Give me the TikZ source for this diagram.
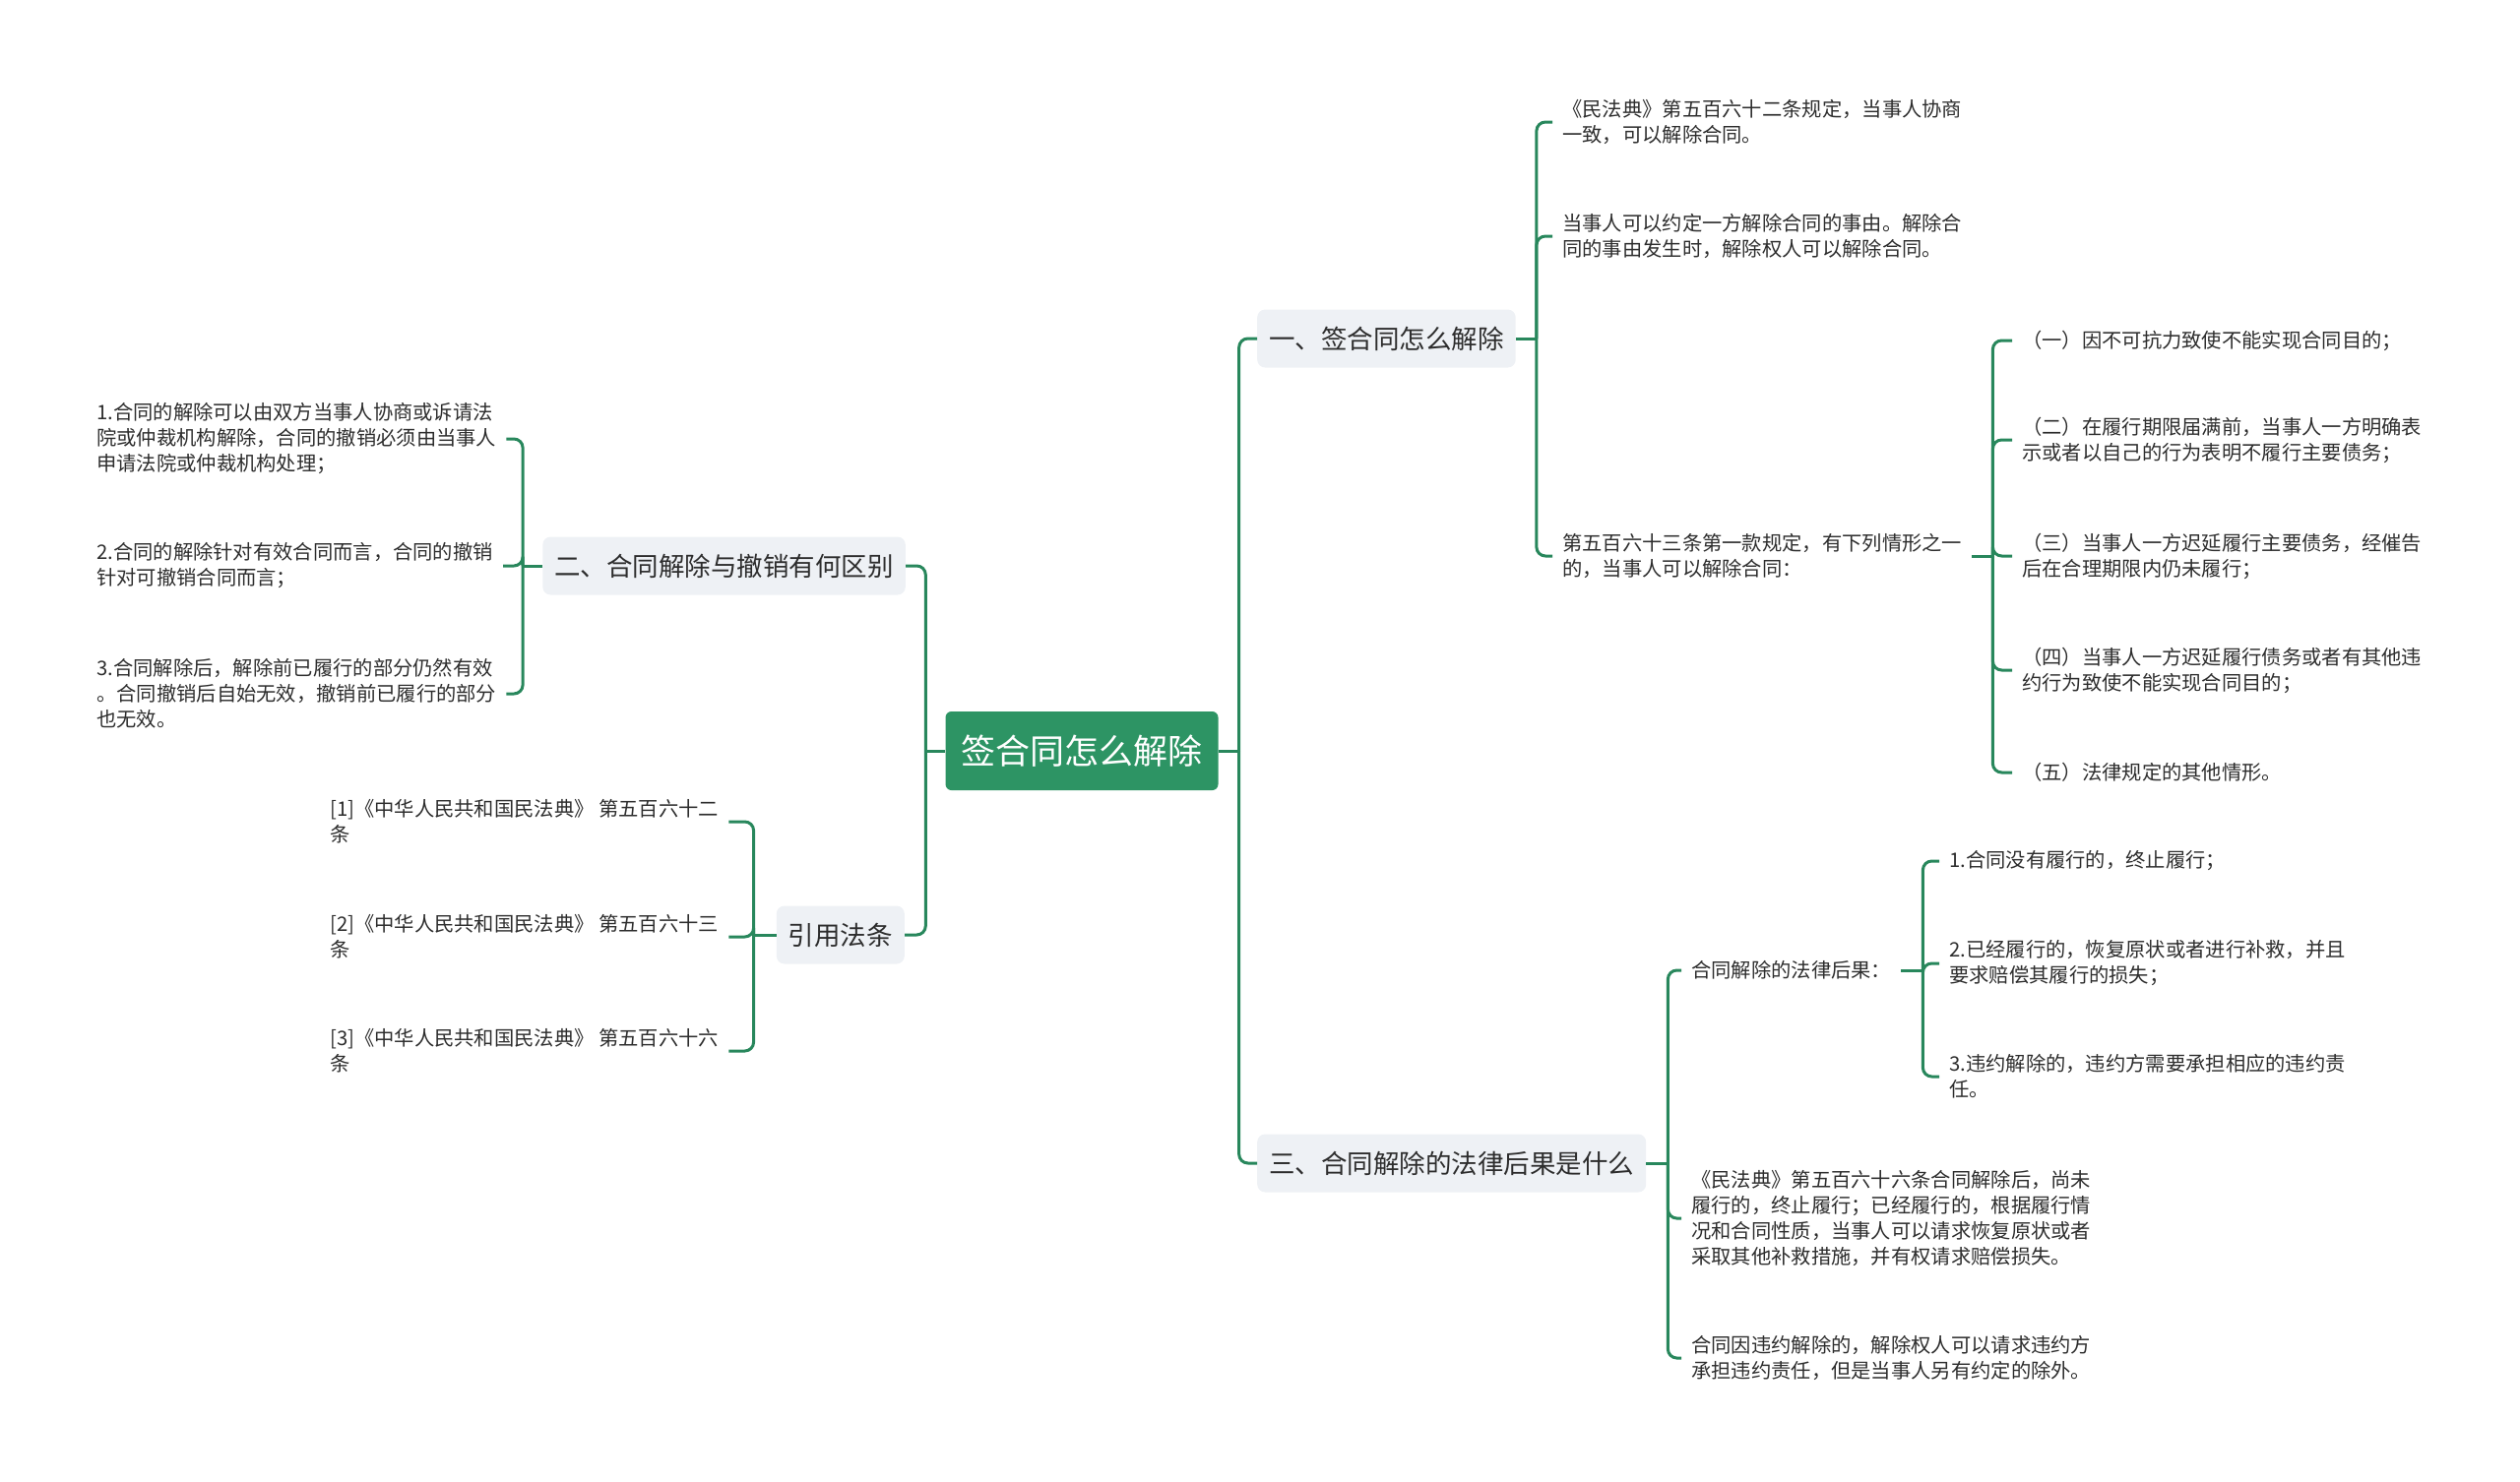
\documentclass[tikz,border=0pt]{standalone}
\usepackage{fontspec}
\newfontfamily\cjk{Noto Sans CJK SC}
\definecolor{lineg}{RGB}{40,135,92}
\definecolor{rootg}{RGB}{45,148,100}
\definecolor{topicbg}{RGB}{238,241,245}
\definecolor{textc}{RGB}{45,45,45}
\begin{document}
\begin{tikzpicture}[x=1pt, y=-1pt, line join=round,
	link/.style={draw=lineg, line width=3pt, rounded corners=9pt},
	rootbox/.style={fill=rootg, rounded corners=6pt, text=white, font=\cjk\fontsize{35}{42}\selectfont, inner xsep=16pt, minimum height=80pt},
	topic/.style={fill=topicbg, rounded corners=8pt, text=textc, font=\cjk\fontsize{26.5}{32}\selectfont, inner xsep=12pt, minimum height=59pt},
	leaf/.style={text=textc, font=\cjk\fontsize{20.3}{26}\selectfont, align=left, inner xsep=10pt, inner ysep=2pt}]
	\useasboundingbox (0,0) rectangle (2560,1505);
	% centre and main topics
	\node[rootbox] (root) at (1099,763) {签合同怎么解除};
	\node[topic, anchor=west] (t1) at (1277,344) {一、签合同怎么解除};
	\node[topic, anchor=east] (t2) at (920,575) {二、合同解除与撤销有何区别};
	\node[topic, anchor=west] (t3) at (1277,1182) {三、合同解除的法律后果是什么};
	\node[topic, anchor=east] (t4) at (919,950) {引用法条};
	% topic one
	\node[leaf, anchor=west] (a1) at (1577,124) {《民法典》第五百六十二条规定，当事人协商\\一致，可以解除合同。};
	\node[leaf, anchor=west] (a2) at (1577,240) {当事人可以约定一方解除合同的事由。解除合\\同的事由发生时，解除权人可以解除合同。};
	\node[leaf, anchor=west] (a3) at (1577,565) {第五百六十三条第一款规定，有下列情形之一\\的，当事人可以解除合同：};
	\node[leaf, anchor=west] (b1) at (2044,346) {（一）因不可抗力致使不能实现合同目的；};
	\node[leaf, anchor=west] (b2) at (2044,447) {（二）在履行期限届满前，当事人一方明确表\\示或者以自己的行为表明不履行主要债务；};
	\node[leaf, anchor=west] (b3) at (2044,565) {（三）当事人一方迟延履行主要债务，经催告\\后在合理期限内仍未履行；};
	\node[leaf, anchor=west] (b4) at (2044,681) {（四）当事人一方迟延履行债务或者有其他违\\约行为致使不能实现合同目的；};
	\node[leaf, anchor=west] (b5) at (2044,785) {（五）法律规定的其他情形。};
	% topic three
	\node[leaf, anchor=west] (c1) at (1708,986) {合同解除的法律后果：};
	\node[leaf, anchor=west] (c2) at (1708,1238) {《民法典》第五百六十六条合同解除后，尚未\\履行的，终止履行；已经履行的，根据履行情\\况和合同性质，当事人可以请求恢复原状或者\\采取其他补救措施，并有权请求赔偿损失。};
	\node[leaf, anchor=west] (c3) at (1708,1380) {合同因违约解除的，解除权人可以请求违约方\\承担违约责任，但是当事人另有约定的除外。};
	\node[leaf, anchor=west] (d1) at (1970,875) {1.合同没有履行的，终止履行；};
	\node[leaf, anchor=west] (d2) at (1970,979) {2.已经履行的，恢复原状或者进行补救，并且\\要求赔偿其履行的损失；};
	\node[leaf, anchor=west] (d3) at (1970,1094) {3.违约解除的，违约方需要承担相应的违约责\\任。};
	% topic two
	\node[leaf, anchor=west] (e1) at (88,446) {1.合同的解除可以由双方当事人协商或诉请法\\院或仲裁机构解除，合同的撤销必须由当事人\\申请法院或仲裁机构处理；};
	\node[leaf, anchor=west] (e2) at (88,575) {2.合同的解除针对有效合同而言，合同的撤销\\针对可撤销合同而言；};
	\node[leaf, anchor=west] (e3) at (88,705) {3.合同解除后，解除前已履行的部分仍然有效\\。合同撤销后自始无效，撤销前已履行的部分\\也无效。};
	% cited articles
	\node[leaf, anchor=west] (f1) at (325,835) {[1]《中华人民共和国民法典》 第五百六十二\\条};
	\node[leaf, anchor=west] (f2) at (325,952) {[2]《中华人民共和国民法典》 第五百六十三\\条};
	\node[leaf, anchor=west] (f3) at (325,1068) {[3]《中华人民共和国民法典》 第五百六十六\\条};
	% junctions
	\coordinate (jR) at ([xshift=21pt]root.east);
	\coordinate (jL) at ([xshift=-20pt]root.west);
	\coordinate (j1) at ([xshift=21pt]t1.east);
	\coordinate (j2) at ([xshift=-20pt]t2.west);
	\coordinate (j3) at ([xshift=22pt]t3.east);
	\coordinate (j4) at ([xshift=-23pt]t4.west);
	\coordinate (ja) at ([xshift=21pt]a3.east);
	\coordinate (jc) at ([xshift=22pt]c1.east);
	% connectors
	\draw[link] (root.east) -- (jR);
	\draw[link] (root.west) -- (jL);
	\draw[link] (t1.east) -- (j1);
	\draw[link] (t2.west) -- (j2);
	\draw[link] (t3.east) -- (j3);
	\draw[link] (t4.west) -- (j4);
	\draw[link] (a3.east) -- (ja);
	\draw[link] (c1.east) -- (jc);
	\foreach \c in {t1,t3} \draw[link] (jR) |- (\c.west);
	\foreach \c in {t2,t4} \draw[link] (jL) |- (\c.east);
	\foreach \c in {a1,a2,a3} \draw[link] (j1) |- (\c.west);
	\foreach \c in {b1,b2,b3,b4,b5} \draw[link] (ja) |- (\c.west);
	\foreach \c in {c1,c2,c3} \draw[link] (j3) |- (\c.west);
	\foreach \c in {d1,d2,d3} \draw[link] (jc) |- (\c.west);
	\foreach \c in {e1,e2,e3} \draw[link] (j2) |- (\c.east);
	\foreach \c in {f1,f2,f3} \draw[link] (j4) |- (\c.east);
\end{tikzpicture}
\end{document}
